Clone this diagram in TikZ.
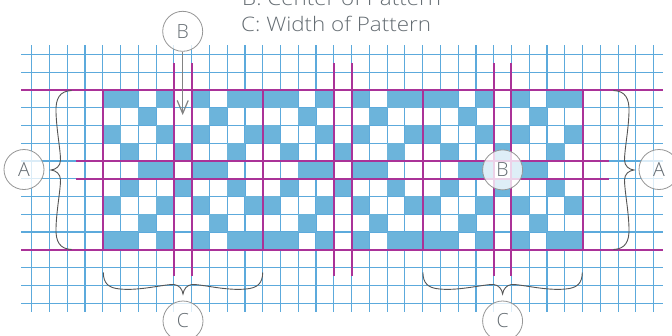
\documentclass[tikz,border=0pt]{standalone}
\usepackage{fontspec}
\IfFontExistsTF{Open Sans Light}{\setmainfont{Open Sans Light}}{\setmainfont{Open Sans}}
\usetikzlibrary{arrows.meta}
\definecolor{gridblue}{RGB}{92,170,220}
\definecolor{cellblue}{RGB}{108,180,219}
\definecolor{mag}{RGB}{170,50,152}
\definecolor{txtgray}{RGB}{100,108,114}
\definecolor{circgray}{RGB}{150,150,150}
\definecolor{bracegray}{RGB}{85,85,85}
\definecolor{arrowgray}{RGB}{130,130,130}
\begin{document}
\begin{tikzpicture}[x=1bp,y=-1bp,
  gridline/.style={draw=gridblue,line width=1.15bp},
  magline/.style={draw=mag,line width=2bp},
  labelcirc/.style={circle,draw=circgray,line width=0.8bp,minimum size=40bp,inner sep=0pt,
    fill=white,fill opacity=0.78,text opacity=1,text=txtgray,font=\fontsize{19.5bp}{20bp}\selectfont},
  legend/.style={anchor=base west,inner sep=0pt,text=txtgray,xscale=1.12,transform shape,font=\fontsize{20bp}{21bp}\selectfont},
  bracestyle/.style={draw=bracegray,line width=0.9bp},
  arrowstyle/.style={draw=arrowgray,line width=1.2bp,-{Straight Barb[length=13bp,width=11bp]}}
]
\useasboundingbox (0,0) rectangle (672,335);
\fill[white] (0,0) rectangle (672,335);
% grid
\foreach \k in {0,...,35}{
  \draw[gridline] ({31.7+\k*17.77},45) -- ({31.7+\k*17.77},311.7);
}
\foreach \j in {0,...,14}{
  \draw[gridline] (21.3,{54.3+\j*17.77}) -- (663,{54.3+\j*17.77});
}
% pattern cells
\foreach \row [count=\r from 0] in {{1,1,0,1,0,1,0,1,1},{0,0,1,0,0,0,1,0,0},{1,0,0,1,0,1,0,0,1},{0,1,0,0,1,0,0,1,0},{0,0,1,1,0,1,1,0,0},{0,1,0,0,1,0,0,1,0},{1,0,0,1,0,1,0,0,1},{0,0,1,0,0,0,1,0,0},{1,1,0,1,0,1,0,1,1}}{
  \foreach \v [count=\c from 0] in \row {
    \ifnum\v=1
      \foreach \rep in {0,1,2}{
        \fill[cellblue] ({31.7+(4+\rep*9+\c)*17.77},{54.3+(2+\r)*17.77}) rectangle ++(17.77,17.77);
      }
    \fi
  }
}
% magenta lines
\foreach \k in {4,13,22,31}{
  \draw[magline] ({31.7+\k*17.77},{54.3+2*17.77}) -- ({31.7+\k*17.77},{54.3+11*17.77});
}
\foreach \k in {8,9,17,18,26,27}{
  \draw[magline] ({31.7+\k*17.77},{54.3+0.5*17.77}) -- ({31.7+\k*17.77},{54.3+12.5*17.77});
}
\foreach \j in {2,11}{
  \draw[magline] (21.3,{54.3+\j*17.77}) -- (663,{54.3+\j*17.77});
}
\foreach \j in {6,7}{
  \draw[magline] ({31.7+2.5*17.77},{54.3+\j*17.77}) -- ({31.7+32.5*17.77},{54.3+\j*17.77});
}
% vertical braces
\draw[bracestyle] (71.7,90.5) .. controls (60,91) and (55.5,98) .. (56,112)
  .. controls (56.5,130) and (60.5,150) .. (60.5,160)
  .. controls (60.5,166) and (56,169.5) .. (51,170)
  .. controls (56,170.5) and (60.5,174) .. (60.5,180)
  .. controls (60.5,190) and (56.5,210) .. (56,228)
  .. controls (55.5,242) and (60,249) .. (71.7,249.5);
\begin{scope}[shift={(685,0)},xscale=-1]
\draw[bracestyle] (71.7,90.5) .. controls (60,91) and (55.5,98) .. (56,112)
  .. controls (56.5,130) and (60.5,150) .. (60.5,160)
  .. controls (60.5,166) and (56,169.5) .. (51,170)
  .. controls (56,170.5) and (60.5,174) .. (60.5,180)
  .. controls (60.5,190) and (56.5,210) .. (56,228)
  .. controls (55.5,242) and (60,249) .. (71.7,249.5);
\end{scope}
% horizontal braces
\foreach \sx in {0,319.6}{
\begin{scope}[shift={(\sx,0)}]
\draw[bracestyle] (103.3,272.5) .. controls (103.5,283) and (108,288) .. (120,289)
  .. controls (140,291) and (165,284) .. (174,284.5)
  .. controls (179,285) and (182.3,289) .. (183,294)
  .. controls (183.7,289) and (187,285) .. (192,284.5)
  .. controls (201,284) and (226,291) .. (246,289)
  .. controls (258,288) and (262.5,283) .. (262.7,272.5);
\end{scope}
}
% label circles
\node[labelcirc] (Aleft) at (24,169.5) {A};
\node[labelcirc] (Aright) at (659,169.5) {A};
\node[labelcirc] (Btop) at (182.7,31.3) {B};
\node[labelcirc] (Bmid) at (502.6,169.9) {B};
\node[labelcirc] (Cleft) at (183,321) {C};
\node[labelcirc] (Cright) at (502.6,321) {C};
\coordinate (Btarget) at (182.7,115);
\draw[arrowstyle] (Btop) -- (Btarget);
% legend
\node[legend] (legB) at (242,5) {B: Center of Pattern};
\node[legend] (legC) at (241,31) {C: Width of Pattern};
\end{tikzpicture}
\end{document}
